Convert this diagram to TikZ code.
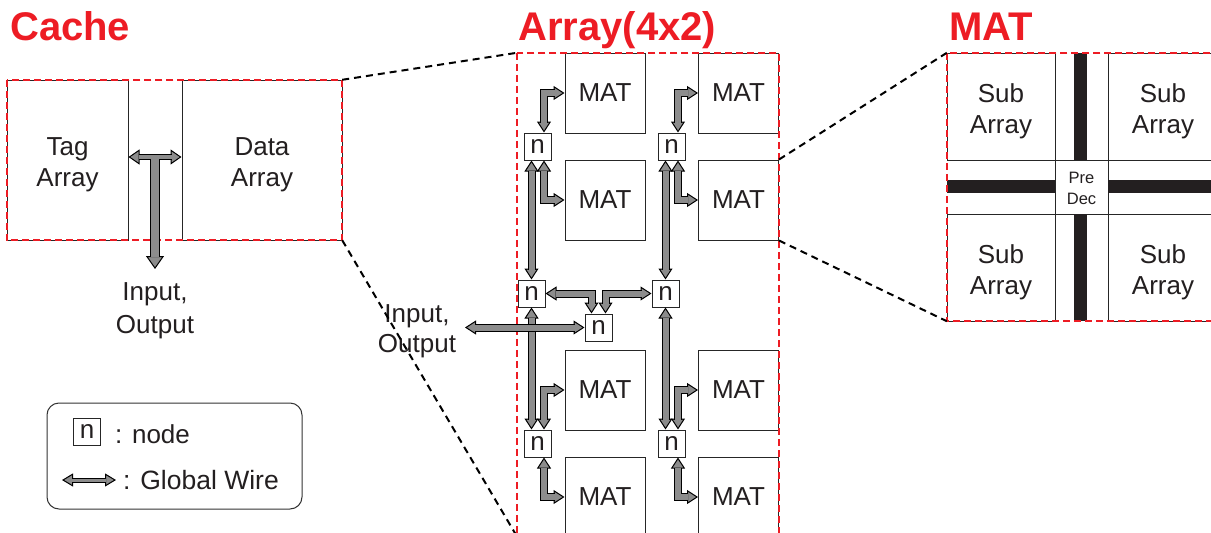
\documentclass[tikz,border=0pt]{standalone}
\usepackage{fontspec}
\setmainfont{Liberation Sans}
\usetikzlibrary{arrows.meta,calc}
\definecolor{tred}{HTML}{ED1C24}
\definecolor{wgray}{RGB}{140,140,140}
\definecolor{ink}{HTML}{231F20}
\newcommand\tipto[4]{\draw[line width=1pt, draw=black, -{Triangle[width=#3pt,length=#4pt,fill=wgray]}] (#1) ++(#2:#4pt) -- (#1);}
\newcommand\awire[5]{%
  \tipto{#1}{#2}{14}{11}%
  \tipto{#4}{#5}{14}{11}%
  \draw[wire] (#1) #3 (#4);}
\newcommand\lowtxt{\rule{0pt}{28pt}}
\begin{document}
\begin{tikzpicture}[x=1pt,y=-1pt,
  box/.style={draw=black!85, line width=1pt, fill=white, inner sep=0pt, text=ink,
    font=\fontsize{26}{31}\selectfont, align=center},
  nbox/.style={box, minimum size=27},
  mat/.style={box, minimum size=80},
  lbl/.style={inner sep=0pt, text=ink, font=\fontsize{26}{31}\selectfont, align=center},
  title/.style={inner sep=0pt, text=tred, font=\fontsize{40}{48}\selectfont\bfseries, anchor=base west},
  redframe/.style={draw=tred, line width=2.5pt, dash pattern=on 7pt off 4pt, inner sep=0pt},
  conn/.style={draw=black, line width=2pt, dash pattern=on 7pt off 5pt},
  wire/.style={draw=black, line width=1pt, double=wgray, double distance=6pt,
    shorten <=10pt, shorten >=10pt}]
\clip (0,0) rectangle (1211,533);
\fill[white] (0,0) rectangle (1211,533);

% titles
\node[title] (tcache) at (10,40) {Cache};
\node[title] (tarray) at (518,40) {Array(4x2)};
\node[title] (tmat) at (949,40) {MAT};

% frames (as named nodes, drawn later)
\path (174.5,160) node[inner sep=0pt, minimum width=335, minimum height=160] (cframe) {};
\path (648,294.5) node[inner sep=0pt, minimum width=262, minimum height=483] (aframe) {};
\path (1082,187) node[inner sep=0pt, minimum width=270, minimum height=268] (mframe) {};

% ---------- Cache ----------
\node[box, minimum width=121, minimum height=160] (tag) at (67.5,160) {\lowtxt Tag\\Array};
\node[box, minimum width=160, minimum height=160] (data) at (262,160) {\lowtxt Data\\Array};
\draw[redframe] (cframe.north west) rectangle (cframe.south east);

\coordinate (tbar) at (155,157);
\coordinate (cio) at (155,269);
\tipto{[yshift=3pt]tag.east}{0}{15}{11}
\tipto{[yshift=3pt]data.west}{180}{15}{11}
\tipto{cio}{90}{18}{13}
\draw[line width=5.5pt, black, shorten <=10pt, shorten >=10pt] ([yshift=3pt]tag.east) -- ([yshift=3pt]data.west);
\draw[line width=10pt, black, shorten >=12pt] (tbar) -- (cio);
\draw[line width=3.5pt, wgray, shorten <=10pt, shorten >=10pt] ([yshift=3pt]tag.east) -- ([yshift=3pt]data.west);
\draw[line width=8pt, wgray, shorten >=12pt] (tbar) -- (cio);
\node[lbl, font=\fontsize{26}{33}\selectfont] (cioT) at (155,311) {Input,\\Output};

% ---------- Array ----------
\node[mat] (m11) at (605,93) {MAT};
\node[mat] (m12) at (738.5,93) {MAT};
\node[mat] (m21) at (605,200) {MAT};
\node[mat] (m22) at (738.5,200) {MAT};
\node[mat] (m31) at (605,390) {MAT};
\node[mat] (m32) at (738.5,390) {MAT};
\node[mat] (m41) at (605,497) {MAT};
\node[mat] (m42) at (738.5,497) {MAT};

\node[nbox] (n1) at (537.5,146.5) {n};
\node[nbox] (n2) at (671.5,146.5) {n};
\node[nbox] (midL) at (531.5,293.5) {n};
\node[nbox] (midR) at (665.5,293.5) {n};
\node[nbox] (nc) at (598.5,327.5) {n};
\node[nbox] (n3) at (537.5,443.5) {n};
\node[nbox] (n4) at (671.5,443.5) {n};

\draw[redframe] (aframe.north west) rectangle (aframe.south east);

\coordinate (aio) at (465,327.5);
% column 1
\awire{[xshift=6.5pt]n1.north}{90}{|-}{m11.west}{180}
\awire{[xshift=6.5pt]n1.south}{-90}{|-}{m21.west}{180}
\awire{n1.south -| midL.north}{-90}{--}{midL.north}{90}
\awire{midL.south}{-90}{--}{n3.north -| midL.south}{90}
\awire{[xshift=6.5pt]n3.north}{90}{|-}{m31.west}{180}
\awire{[xshift=6.5pt]n3.south}{-90}{|-}{m41.west}{180}
% column 2
\awire{[xshift=6.5pt]n2.north}{90}{|-}{m12.west}{180}
\awire{[xshift=6.5pt]n2.south}{-90}{|-}{m22.west}{180}
\awire{n2.south -| midR.north}{-90}{--}{midR.north}{90}
\awire{midR.south}{-90}{--}{n4.north -| midR.south}{90}
\awire{[xshift=6.5pt]n4.north}{90}{|-}{m32.west}{180}
\awire{[xshift=6.5pt]n4.south}{-90}{|-}{m42.west}{180}
% middle
\awire{midL.east}{0}{-|}{[xshift=-7pt]nc.north}{90}
\awire{midR.west}{180}{-|}{[xshift=7pt]nc.north}{90}
\awire{aio}{0}{--}{nc.west}{180}

\node[lbl, font=\fontsize{26}{30}\selectfont] (aioT) at (417,331) {Input,\\Output};

% ---------- MAT ----------
\node[box, minimum width=108, minimum height=107] (s11) at (1001,106.5) {\lowtxt Sub\\Array};
\node[box, minimum width=110, minimum height=107] (s12) at (1163,106.5) {\lowtxt Sub\\Array};
\node[box, minimum width=108, minimum height=107] (s21) at (1001,267.5) {\lowtxt Sub\\Array};
\node[box, minimum width=110, minimum height=107] (s22) at (1163,267.5) {\lowtxt Sub\\Array};
\node[box, minimum width=53, minimum height=54, font=\fontsize{16.5}{21}\selectfont] (pd) at (1081.5,187) {\rule{0pt}{15pt}Pre\\Dec};
\fill[ink] (1074,53) rectangle (1087,160);
\fill[ink] (1074,214) rectangle (1087,321);
\fill[ink] (947,180) rectangle (1055,193);
\fill[ink] (1108,180) rectangle (1211,193);
\draw[redframe] (mframe.north west) rectangle (mframe.south east);

% ---------- zoom connectors ----------
\draw[conn] (cframe.north east) -- (aframe.north west);
\draw[conn] (cframe.south east) -- (aframe.south west);
\draw[conn] (m22.north east) -- (mframe.north west);
\draw[conn] (m22.south east) -- (mframe.south west);

% ---------- legend ----------
\node[draw=black!80, line width=1pt, rounded corners=12pt, minimum width=255, minimum height=106, inner sep=0pt] (legend) at (174.5,456) {};
\node[nbox] (legn) at (87,431.5) {n};
\node[lbl, anchor=base west] (legnt) at (115,443) {: node};
\coordinate (legA) at (62,480);
\coordinate (legB) at (116,480);
\tipto{legA}{0}{13}{11}
\tipto{legB}{180}{13}{11}
\draw[line width=1pt, black, double=wgray, double distance=3pt, shorten <=10pt, shorten >=10pt] (legA) -- (legB);
\node[lbl, anchor=base west, font=\fontsize{26.5}{31}\selectfont] (legwt) at (123,489) {: Global Wire};
\end{tikzpicture}
\end{document}
